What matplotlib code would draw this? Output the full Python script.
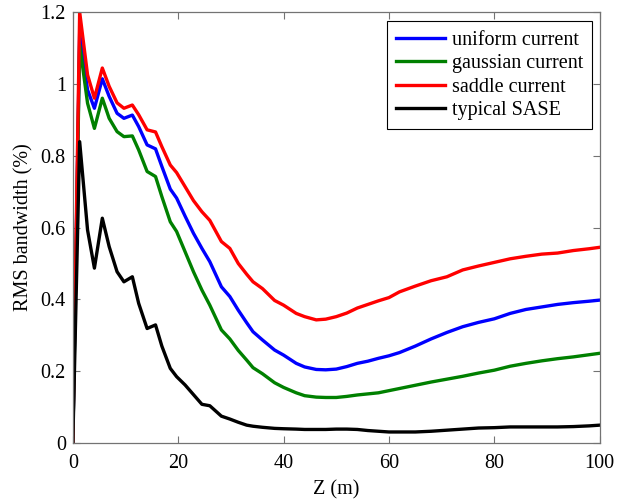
import matplotlib
matplotlib.use('Agg')
import matplotlib.pyplot as plt

plt.rcParams['font.family'] = 'Liberation Serif'

z = [0, 1.3, 2.8, 4.1, 5.6, 6.9, 8.4, 9.7, 11.3, 12.5, 14.1, 15.7, 16.9, 18.5, 19.7,
     21.3, 22.9, 24.5, 26, 28.2, 29.8, 31.4, 33, 34.2, 36, 38.3, 40, 42.4, 44, 46.2,
     48, 50, 52, 54, 56, 58, 60, 62, 65, 68, 71, 74, 77, 80, 83, 86, 89, 92, 95, 98, 100]

uniform = [0, 1.14, 0.983, 0.932, 1.014, 0.965, 0.918, 0.904, 0.913, 0.881, 0.83, 0.819,
           0.77, 0.707, 0.682, 0.632, 0.584, 0.542, 0.505, 0.435, 0.408, 0.37, 0.335, 0.31,
           0.287, 0.259, 0.245, 0.222, 0.212, 0.205, 0.204, 0.206, 0.213, 0.222, 0.228,
           0.236, 0.243, 0.252, 0.27, 0.29, 0.308, 0.324, 0.336, 0.346, 0.361, 0.372,
           0.379, 0.386, 0.391, 0.395, 0.398]

gaussian = [0, 1.109, 0.946, 0.876, 0.96, 0.904, 0.867, 0.853, 0.855, 0.816, 0.756, 0.742,
            0.686, 0.616, 0.589, 0.533, 0.477, 0.426, 0.384, 0.315, 0.29, 0.258, 0.231, 0.21,
            0.193, 0.168, 0.155, 0.14, 0.132, 0.128, 0.127, 0.127, 0.13, 0.134, 0.137,
            0.14, 0.146, 0.152, 0.161, 0.17, 0.178, 0.186, 0.195, 0.203, 0.214, 0.222,
            0.229, 0.235, 0.24, 0.246, 0.25]

saddle = [0, 1.2, 1.025, 0.96, 1.044, 0.993, 0.947, 0.932, 0.941, 0.914, 0.872, 0.866,
          0.825, 0.774, 0.753, 0.714, 0.675, 0.644, 0.62, 0.561, 0.542, 0.50, 0.47, 0.449,
          0.43, 0.397, 0.384, 0.361, 0.352, 0.343, 0.345, 0.352, 0.362, 0.376, 0.386,
          0.396, 0.405, 0.421, 0.437, 0.452, 0.463, 0.482, 0.493, 0.503, 0.513, 0.52,
          0.526, 0.529, 0.536, 0.541, 0.545]

sase = [0, 0.839, 0.593, 0.487, 0.626, 0.547, 0.477, 0.449, 0.463, 0.389, 0.319, 0.329,
        0.27, 0.208, 0.185, 0.162, 0.135, 0.108, 0.104, 0.075, 0.067, 0.058, 0.05, 0.047,
        0.044, 0.041, 0.04, 0.039, 0.038, 0.038, 0.038, 0.039, 0.039, 0.038, 0.035,
        0.033, 0.031, 0.031, 0.031, 0.033, 0.036, 0.039, 0.042, 0.043, 0.045, 0.045,
        0.045, 0.045, 0.046, 0.048, 0.05]

fig = plt.figure(figsize=(6.17, 4.99), dpi=100)
ax = fig.add_axes([0.118, 0.112, 0.854, 0.864])

lw = 2.4
ax.plot(z, uniform, color='#0000ff', lw=lw, label='uniform current')
ax.plot(z, gaussian, color='#008000', lw=lw, label='gaussian current')
ax.plot(z, saddle, color='#ff0000', lw=lw, label='saddle current')
ax.plot(z, sase, color='black', lw=lw, label='typical SASE')

ax.set_xlim(0, 100)
ax.set_ylim(0, 1.2)
ax.set_xticks([0, 20, 40, 60, 80, 100])
ax.set_yticks([0, 0.2, 0.4, 0.6, 0.8, 1, 1.2])
ax.set_yticklabels(['0', '0.2', '0.4', '0.6', '0.8', '1', '1.2'])
ax.tick_params(direction='in', top=True, right=True, labelsize=14.5, length=5,
               color='0.45', width=0.8, pad=5)
ax.tick_params(axis='x', pad=8)
for s in ax.spines.values():
    s.set_color('0.45')
    s.set_linewidth(0.9)

ax.set_xlabel('Z (m)', fontsize=14.5, labelpad=5)
ax.set_ylabel('RMS bandwidth (%)', fontsize=14.5, labelpad=5)

leg = ax.legend(loc='upper right', fontsize=14.5, fancybox=False, framealpha=1,
                edgecolor='black', handlelength=2.45, handletextpad=0.3,
                labelspacing=0.22, borderpad=0.45, borderaxespad=0,
                bbox_to_anchor=(0.985, 0.978))
leg.get_frame().set_linewidth(0.8)

fig.savefig('out.png', dpi=100)
